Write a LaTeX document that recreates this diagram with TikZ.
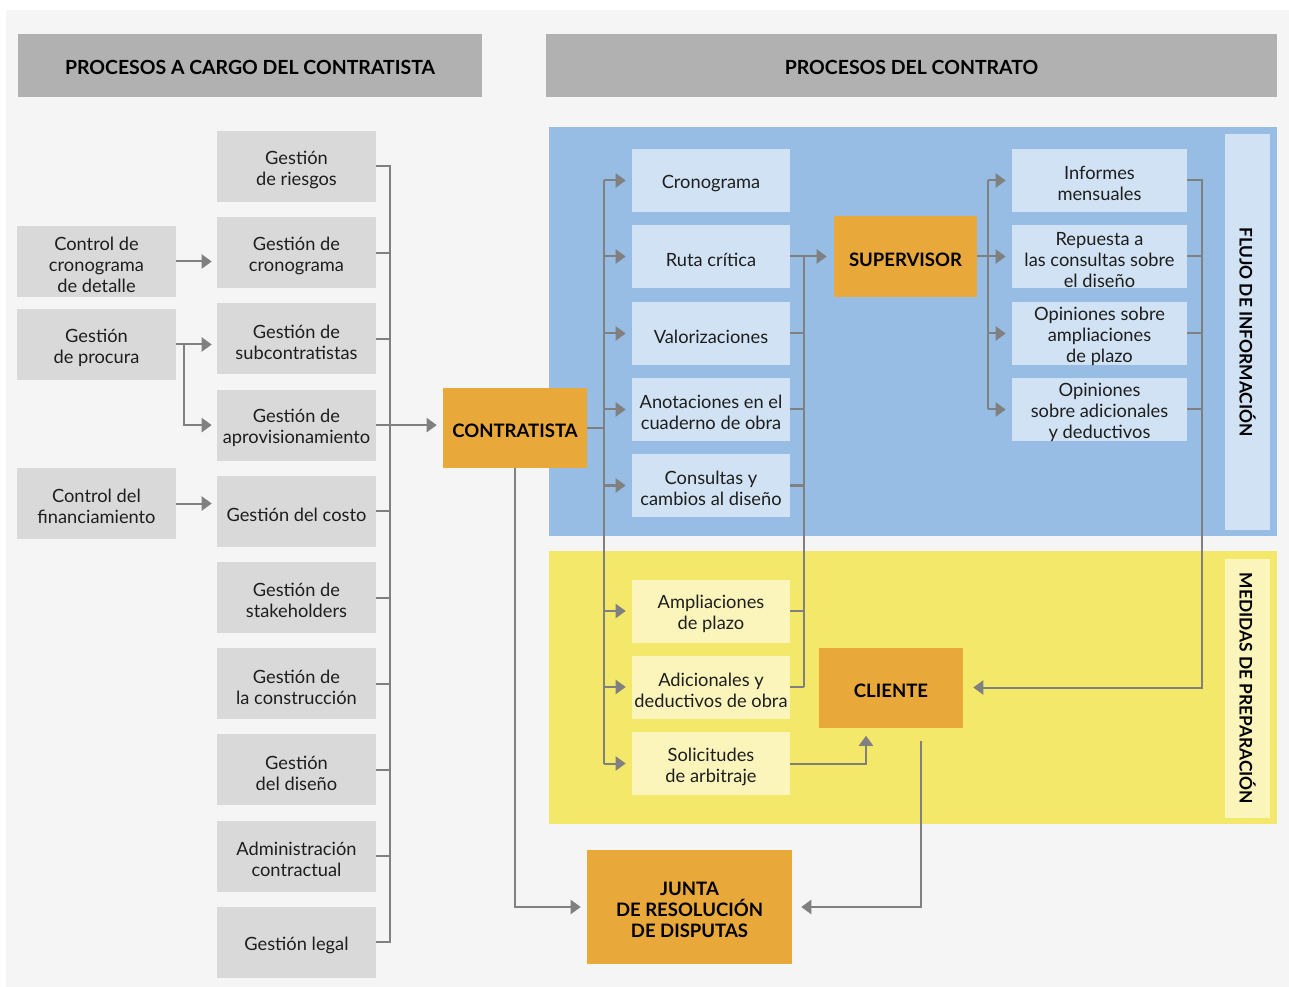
\documentclass[tikz,border=0pt]{standalone}
\usepackage{fontspec}
\setmainfont{Lato}
\usetikzlibrary{arrows.meta,calc}
\definecolor{bgc}{HTML}{F5F5F5}
\definecolor{hdr}{HTML}{B1B1B1}
\definecolor{gbox}{HTML}{D9D9D9}
\definecolor{blueR}{HTML}{97BDE4}
\definecolor{blueB}{HTML}{D0E2F3}
\definecolor{yelR}{HTML}{F3E86A}
\definecolor{yelB}{HTML}{FBF5BB}
\definecolor{orng}{HTML}{E8A83A}
\definecolor{lnc}{HTML}{808080}
\definecolor{txt}{HTML}{1E1E1E}
\tikzset{
  base/.style={inner sep=0pt, align=center, text=txt, font=\fontsize{13.7}{15.8}\selectfont},
  lab/.style={base, yshift=-2.4pt},
  t/.style={label={[lab]center:{#1}}},
  tb/.style={label={[lab, text=black, font=\fontsize{13.9}{15.8}\selectfont\bfseries]center:{#1}}},
  th/.style={label={[lab, yshift=0.6pt, text=black, font=\fontsize{14.6}{16}\selectfont\bfseries]center:{#1}}},
  gbx/.style={base, fill=gbox, minimum width=119.25pt, minimum height=53.25pt},
  hbx/.style={base, fill=hdr, minimum height=47.25pt},
  bbx/.style={base, fill=blueB, minimum width=118.5pt, minimum height=47.25pt},
  rbx/.style={base, fill=blueB, minimum width=131.25pt, minimum height=47.25pt},
  ybx/.style={base, fill=yelB, minimum width=118.5pt, minimum height=47.25pt},
  obx/.style={base, fill=orng},
  vlab/.style={base, rotate=-90, minimum height=33.75pt, text=black, font=\fontsize{13}{14}\selectfont\bfseries},
  ln/.style={draw=lnc, line width=1.5pt},
  arr/.style={ln, -{Triangle[length=7.5pt,width=10.5pt]}, shorten >=3.75pt},
}
\begin{document}
\begin{tikzpicture}[x=0.75pt,y=-0.75pt]
\useasboundingbox (0,0) rectangle (1289,987);
\fill[white] (0,0) rectangle (1289,987);
\fill[bgc] (6,10) rectangle (1289,987);
% regions
\fill[blueR] (549,127) rectangle (1277,536);
\fill[yelR] (549,551) rectangle (1277,824);
% headers
\node[hbx, minimum width=348pt, th={PROCESOS A CARGO DEL CONTRATISTA}] (h1) at (250,65.5) {};
\node[hbx, minimum width=548.25pt, th={PROCESOS DEL CONTRATO}] (h2) at (911.5,65.5) {};
% vertical labels
\node[vlab, fill=blueB, minimum width=297pt] (flujo) at (1247.5,332) {FLUJO DE INFORMACIÓN};
\node[vlab, fill=yelB, minimum width=194.25pt] (medidas) at (1247.5,688.5) {MEDIDAS DE PREPARACIÓN};
% far left
\node[gbx, t={Control de\\cronograma\\de detalle}] (cc) at (96.5,261.5) {};
\node[gbx, t={Gestión\\de procura}] (gp) at (96.5,344.5) {};
\node[gbx, t={Control del\\financiamiento}] (cf) at (96.5,503.5) {};
% left column
\node[gbx, t={Gestión\\de riesgos}] (g1) at (296.5,166.5) {};
\node[gbx, t={Gestión de\\cronograma}] (g2) at (296.5,252.7) {};
\node[gbx, t={Gestión de\\subcontratistas}] (g3) at (296.5,338.9) {};
\node[gbx, t={Gestión de\\aprovisionamiento}] (g4) at (296.5,425.1) {};
\node[gbx, t={Gestión del costo}] (g5) at (296.5,511.3) {};
\node[gbx, t={Gestión de\\stakeholders}] (g6) at (296.5,597.5) {};
\node[gbx, t={Gestión de\\la construcción}] (g7) at (296.5,683.7) {};
\node[gbx, t={Gestión\\del diseño}] (g8) at (296.5,769.9) {};
\node[gbx, t={Administración\\contractual}] (g9) at (296.5,856.1) {};
\node[gbx, t={Gestión legal}] (g10) at (296.5,942.3) {};
% main actors
\node[obx, minimum width=108pt, minimum height=60pt, tb={CONTRATISTA}] (con) at (515,428) {};
\node[obx, minimum width=107.25pt, minimum height=60.75pt, tb={SUPERVISOR}] (sup) at (905.5,256.5) {};
\node[obx, minimum width=108pt, minimum height=60pt, tb={CLIENTE}] (cli) at (891,687.5) {};
\node[obx, minimum width=153.75pt, minimum height=85.5pt, tb={JUNTA\\DE RESOLUCIÓN\\DE DISPUTAS}] (jun) at (689.5,907) {};
% blue boxes
\node[bbx, t={Cronograma}] (b1) at (711,180.5) {};
\node[bbx, t={Ruta crítica}] (b2) at (711,256.5) {};
\node[bbx, t={Valorizaciones}] (b3) at (711,333.5) {};
\node[bbx, t={Anotaciones en el\\cuaderno de obra}] (b4) at (711,409.5) {};
\node[bbx, t={Consultas y\\cambios al diseño}] (b5) at (711,485.5) {};
% yellow boxes
\node[ybx, t={Ampliaciones\\de plazo}] (y1) at (711,611) {};
\node[ybx, t={Adicionales y\\deductivos de obra}] (y2) at (711,687) {};
\node[ybx, t={Solicitudes\\de arbitraje}] (y3) at (711,763.5) {};
% right boxes
\node[rbx, t={Informes\\mensuales}] (r1) at (1099.5,180.5) {};
\node[rbx, t={Repuesta a\\las consultas sobre\\el diseño}] (r2) at (1099.5,256.5) {};
\node[rbx, t={Opiniones sobre\\ampliaciones\\de plazo}] (r3) at (1099.5,333.5) {};
\node[rbx, t={Opiniones\\sobre adicionales\\y deductivos}] (r4) at (1099.5,409.5) {};
% bus coordinates
\coordinate (busA) at (184,0);
\coordinate (busB) at (390,0);
\coordinate (busC) at (604,0);
\coordinate (busD) at (804,0);
\coordinate (busE) at (988,0);
\coordinate (busF) at (1202,0);
% far left arrows
\draw[arr] (cc.east) -- (cc.east -| g2.west);
\draw[arr] (gp.east) -- (gp.east -| g3.west);
\draw[arr] (gp.east -| busA) |- (g4.west);
\draw[arr] (cf.east) -- (cf.east -| g5.west);
% left column bus
\draw[ln] (g1.east) -- (g1.east -| busB) -- (g10.east -| busB) -- (g10.east);
\foreach \n in {g2,g3,g5,g6,g7,g8,g9} \draw[ln] (\n.east) -- (\n.east -| busB);
\draw[arr, shorten >=4.5pt] (g4.east) -- (g4.east -| con.west);
% contratista bus
\draw[ln] (con.east) -- (con.east -| busC);
\draw[ln] (b1.west -| busC) -- (y3.west -| busC);
\foreach \n in {b1,b2,b3,b4,b5,y1,y2,y3} \draw[arr, shorten >=4.5pt] (\n.west -| busC) -- (\n.west);
% to supervisor bus
\draw[ln] (b2.east -| busD) -- (y2.east -| busD);
\foreach \n in {b3,b4,b5,y1,y2} \draw[ln] (\n.east) -- (\n.east -| busD);
\draw[arr, shorten >=5.25pt] (b2.east) -- (sup.west);
% supervisor bus
\draw[ln] (sup.east) -- (sup.east -| busE);
\draw[ln] (r1.west -| busE) -- (r4.west -| busE);
\foreach \n in {r1,r2,r3,r4} \draw[arr, shorten >=4.5pt] (\n.west -| busE) -- (\n.west);
% right bus to cliente
\foreach \n in {r2,r3,r4} \draw[ln] (\n.east) -- (\n.east -| busF);
\draw[arr, shorten >=7.5pt] (r1.east) -- (r1.east -| busF) |- (cli.east);
% solicitudes to cliente
\draw[arr, shorten >=6pt] (y3.east) -| ([xshift=-18.75pt]cli.south);
% cliente to junta
\draw[arr, shorten >=6.75pt] ([xshift=22.5pt,yshift=-9.75pt]cli.south) |- (jun.east);
% contratista to junta
\draw[arr, shorten >=4.5pt] (con.south) |- (jun.west);
\end{tikzpicture}
\end{document}
